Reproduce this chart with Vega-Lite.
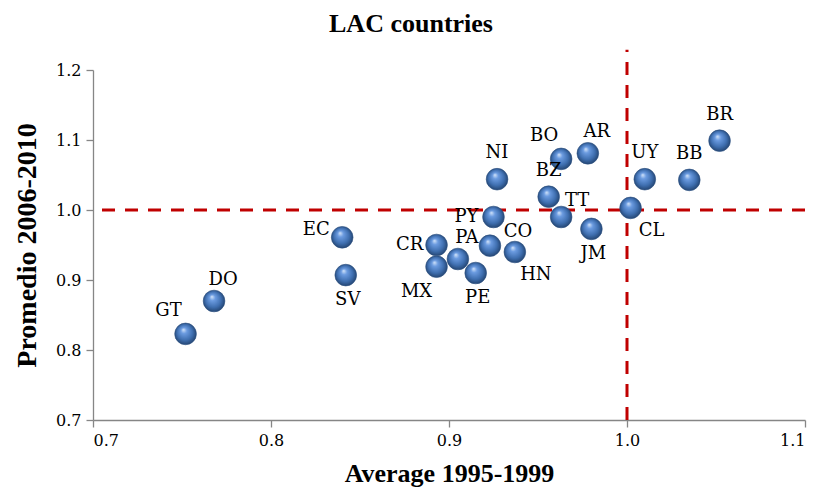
{
  "$schema": "https://vega.github.io/schema/vega-lite/v6.json",
  "autosize": "none",
  "width": 712,
  "height": 350,
  "padding": {"left": 93, "top": 70, "right": 13, "bottom": 75},
  "background": "white",
  "title": {"text": "LAC countries", "font": "Liberation Serif", "fontSize": 26, "fontWeight": "bold", "color": "black", "anchor": "middle", "frame": "group", "dx": -38, "offset": 11},
  "config": {
    "view": {"stroke": null}
  },
  "data": {"values": [
    {"c": "GT", "x": 0.752, "y": 0.823},
    {"c": "DO", "x": 0.768, "y": 0.870},
    {"c": "EC", "x": 0.840, "y": 0.961},
    {"c": "SV", "x": 0.842, "y": 0.907},
    {"c": "CR", "x": 0.893, "y": 0.950},
    {"c": "MX", "x": 0.893, "y": 0.919},
    {"c": "PA", "x": 0.905, "y": 0.930},
    {"c": "PE", "x": 0.915, "y": 0.910},
    {"c": "PY", "x": 0.925, "y": 0.990},
    {"c": "CO", "x": 0.923, "y": 0.949},
    {"c": "HN", "x": 0.937, "y": 0.940},
    {"c": "NI", "x": 0.927, "y": 1.044},
    {"c": "BZ", "x": 0.956, "y": 1.019},
    {"c": "TT", "x": 0.963, "y": 0.990},
    {"c": "BO", "x": 0.963, "y": 1.073},
    {"c": "AR", "x": 0.978, "y": 1.081},
    {"c": "JM", "x": 0.980, "y": 0.973},
    {"c": "CL", "x": 1.002, "y": 1.003},
    {"c": "UY", "x": 1.010, "y": 1.044},
    {"c": "BB", "x": 1.035, "y": 1.043},
    {"c": "BR", "x": 1.052, "y": 1.099}
  ]},
  "encoding": {
    "x": {"field": "x", "type": "quantitative", "scale": {"domain": [0.7, 1.1], "zero": false, "nice": false}, "axis": {"values": [0.7, 0.8, 0.9, 1.0, 1.1], "format": ".1f", "title": "Average 1995-1999", "grid": false, "domainColor": "#868686", "tickColor": "#868686", "domainWidth": 1.3, "tickWidth": 1.3, "tickSize": 7, "labelFont": "DejaVu Serif", "labelFontSize": 16, "labelColor": "black", "titleFont": "Liberation Serif", "titleFontSize": 26, "titleFontWeight": "bold", "titleColor": "black", "labelPadding": 5, "titlePadding": 12}},
    "y": {"field": "y", "type": "quantitative", "scale": {"domain": [0.7, 1.2], "zero": false, "nice": false}, "axis": {"values": [0.7, 0.8, 0.9, 1.0, 1.1, 1.2], "format": ".1f", "title": "Promedio 2006-2010", "grid": false, "domainColor": "#868686", "tickColor": "#868686", "domainWidth": 1.3, "tickWidth": 1.3, "tickSize": 7, "labelFont": "DejaVu Serif", "labelFontSize": 16, "labelColor": "black", "titleFont": "Liberation Serif", "titleFontSize": 28, "titleFontWeight": "bold", "titleColor": "black", "labelPadding": 5, "titlePadding": 14}}
  },
  "layer": [
    {"data": {"values": [{"r": 1.0}]}, "mark": {"type": "rule", "color": "#C00000", "strokeWidth": 3, "strokeDash": [13, 10]}, "encoding": {"y": {"field": "r", "type": "quantitative"}, "x": null}},
    {"data": {"values": [{"r": 1.0, "lo": 0.7, "hi": 1.229}]}, "mark": {"type": "rule", "color": "#C00000", "strokeWidth": 3, "strokeDash": [13, 10], "clip": false}, "encoding": {"x": {"field": "r", "type": "quantitative"}, "y": {"field": "lo", "type": "quantitative"}, "y2": {"field": "hi"}}},
    {"mark": {"type": "point", "filled": true, "size": 470, "opacity": 1, "stroke": "#2a4f80", "strokeWidth": 0.6, "fill": {"gradient": "radial", "x1": 0.4, "y1": 0.3, "r1": 0, "x2": 0.5, "y2": 0.5, "r2": 0.55, "stops": [{"offset": 0, "color": "#d6e6fa"}, {"offset": 0.25, "color": "#6b9be0"}, {"offset": 0.65, "color": "#3f6fb0"}, {"offset": 1, "color": "#1f3d66"}]}}},
    {"transform": [{"filter": "indexof(['NI','BZ','UY','BB','BR'], datum.c) >= 0"}], "mark": {"type": "text", "font": "DejaVu Serif", "fontSize": 18, "color": "black", "dy": -26}, "encoding": {"text": {"field": "c"}}},
    {"transform": [{"filter": "indexof(['SV','JM','PE'], datum.c) >= 0"}], "mark": {"type": "text", "font": "DejaVu Serif", "fontSize": 18, "color": "black", "dy": 25, "dx": 2}, "encoding": {"text": {"field": "c"}}},
    {"transform": [{"filter": "indexof(['CR','PY'], datum.c) >= 0"}], "mark": {"type": "text", "font": "DejaVu Serif", "fontSize": 18, "color": "black", "dx": -27}, "encoding": {"text": {"field": "c"}}},
    {"transform": [{"filter": "datum.c == 'EC'"}], "mark": {"type": "text", "font": "DejaVu Serif", "fontSize": 18, "color": "black", "dx": -26, "dy": -7}, "encoding": {"text": {"field": "c"}}},
    {"transform": [{"filter": "indexof(['GT','BO'], datum.c) >= 0"}], "mark": {"type": "text", "font": "DejaVu Serif", "fontSize": 18, "color": "black", "dx": -17, "dy": -23}, "encoding": {"text": {"field": "c"}}},
    {"transform": [{"filter": "indexof(['DO','PA','AR'], datum.c) >= 0"}], "mark": {"type": "text", "font": "DejaVu Serif", "fontSize": 18, "color": "black", "dx": 9, "dy": -21}, "encoding": {"text": {"field": "c"}}},
    {"transform": [{"filter": "datum.c == 'TT'"}], "mark": {"type": "text", "font": "DejaVu Serif", "fontSize": 18, "color": "black", "dx": 16, "dy": -16}, "encoding": {"text": {"field": "c"}}},
    {"transform": [{"filter": "datum.c == 'CO'"}], "mark": {"type": "text", "font": "DejaVu Serif", "fontSize": 18, "color": "black", "dx": 28, "dy": -14}, "encoding": {"text": {"field": "c"}}},
    {"transform": [{"filter": "indexof(['HN','CL'], datum.c) >= 0"}], "mark": {"type": "text", "font": "DejaVu Serif", "fontSize": 18, "color": "black", "dx": 21, "dy": 23}, "encoding": {"text": {"field": "c"}}},
    {"transform": [{"filter": "datum.c == 'MX'"}], "mark": {"type": "text", "font": "DejaVu Serif", "fontSize": 18, "color": "black", "dx": -20, "dy": 25}, "encoding": {"text": {"field": "c"}}}
  ]
}
